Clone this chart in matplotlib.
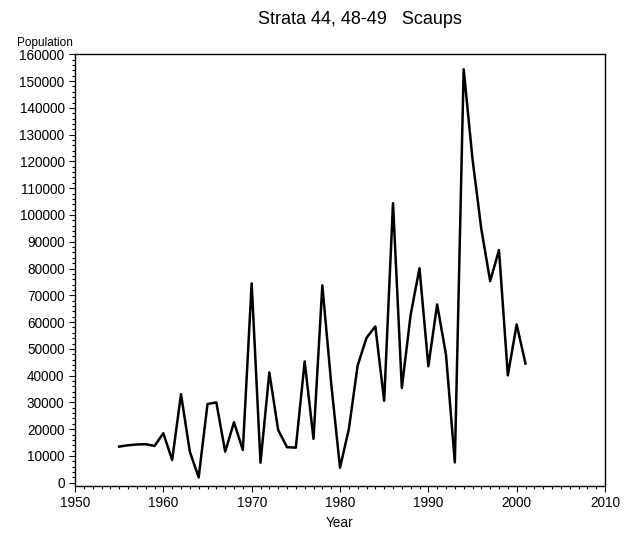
import matplotlib
matplotlib.use("Agg")
import matplotlib.pyplot as plt
from matplotlib.ticker import MultipleLocator

years = list(range(1955, 2002))
population = [
    13500, 14000, 14300, 14400, 13750, 18500, 8500, 33100, 11600, 2000,
    29400, 30000, 11600, 22600, 12250, 74450, 7500, 41200, 19700, 13300,
    13100, 45300, 16400, 73700, 37200, 5600, 20000, 43800, 54100, 58400,
    30600, 104400, 35400, 62800, 80100, 43500, 66600, 47800, 7600, 154400,
    120900, 94700, 75300, 86900, 40100, 59100, 44500,
]
y_ticks = list(range(0, 160001, 10000))
x_ticks = list(range(1950, 2011, 10))

plt.rcParams["font.family"] = ["Liberation Sans", "DejaVu Sans"]

fig = plt.figure(figsize=(6.36, 5.39), dpi=100)
ax = fig.add_axes([75 / 636, 1 - 485.7 / 539, 530 / 636, (485.7 - 54.3) / 539])

ax.plot(years, population, color="black", linewidth=1.8)

ax.set_xlim(1950, 2010)
ax.set_ylim(-1100, 160000)
ax.set_xticks(x_ticks)
ax.set_yticks(y_ticks)
ax.xaxis.set_minor_locator(MultipleLocator(1))
ax.yaxis.set_minor_locator(MultipleLocator(2000))
ax.tick_params(axis="both", which="major", direction="out", length=4, width=0.8, labelsize=9.8)
ax.tick_params(axis="both", which="minor", direction="out", length=2, width=0.8)
for side in ["top", "right", "left", "bottom"]:
    ax.spines[side].set_linewidth(1.0)

ax.set_xlabel("Year", fontsize=9.8, labelpad=4.5)
fig.text(73 / 636, 1 - 43 / 539, "Population", fontsize=8.5, ha="right", va="center")
fig.text(360 / 636, 1 - 20 / 539, "Strata 44, 48-49   Scaups", fontsize=13, ha="center", va="center")

fig.savefig("out.png", dpi=100)
